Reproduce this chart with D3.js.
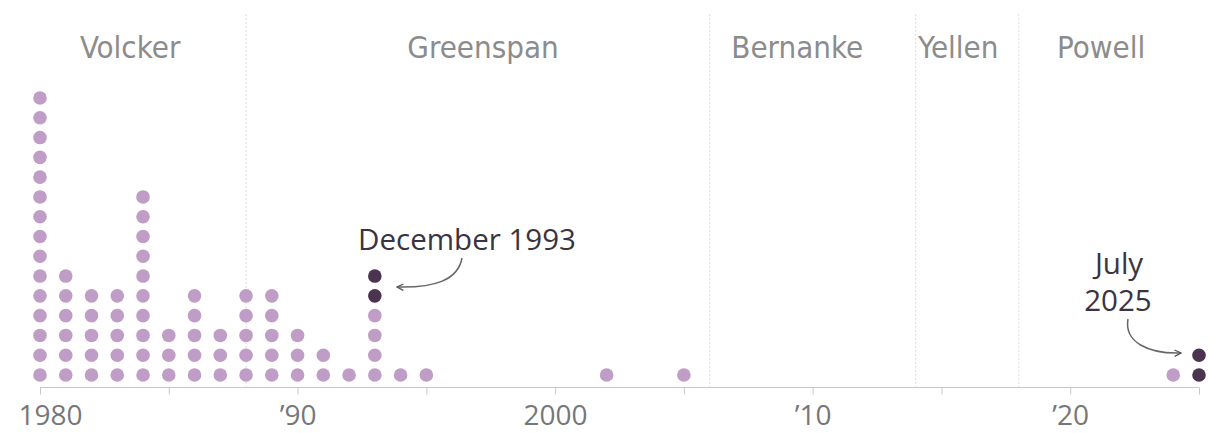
<!DOCTYPE html>
<html>
<head>
<meta charset="utf-8">
<script src="https://cdn.jsdelivr.net/npm/d3@7"></script>
<style>
  body { margin: 0; background: #fff; }
  .chair { font-family: "DejaVu Sans Condensed", "DejaVu Sans", sans-serif; font-stretch: condensed; fill: #8c8c8c; }
  .tick-label { font-family: "Open Sans", sans-serif; fill: #777; }
  .note { font-family: "Open Sans", sans-serif; fill: #3a3340; }
</style>
</head>
<body>
<div id="chart"></div>
<script>
// ======= DATA =======

// years that had dots, and how many dots are stacked in each
const years  = [1980, 1981, 1982, 1983, 1984, 1985, 1986, 1987, 1988, 1989,
                1990, 1991, 1992, 1993, 1994, 1995, 2002, 2005, 2024, 2025];
const counts = [15, 6, 5, 5, 10, 3, 5, 3, 5, 5,
                3, 2, 1, 6, 1, 1, 1, 1, 1, 2];

// dots drawn dark at the top of a stack
const highlightYears  = [1993, 2025];
const highlightCounts = [2, 2];

// fed chairs: where each term starts (divider) and where the name sits
const chairs        = ["Volcker", "Greenspan", "Bernanke", "Yellen", "Powell"];
const chairLabelAt  = [1983.5, 1997.2, 2009.4, 2015.65, 2021.2];
const chairDividers = [1988.0, 2006.0, 2014.0, 2018.0];

const tickYears  = [1980, 1985, 1990, 1995, 2000, 2005, 2010, 2015, 2020, 2025];
const tickLabels = { 1980: "1980", 1990: "\u201990", 2000: "2000", 2010: "\u201910", 2020: "\u201920" };

// ======= SETUP =======
const width = 1213;
const height = 433;
const lightColor = "#bf9dc6";
const darkColor = "#4a3450";

const svg = d3.select("#chart")
  .append("svg")
  .attr("width", width)
  .attr("height", height);

const x = d3.scaleLinear().domain([1980, 2025]).range([40, 1199]);
const y = d3.scaleLinear().domain([0, 14]).range([375, 98]);
const axisY = 387.5;

// ------- dividers -------
svg.selectAll(".divider")
  .data(chairDividers)
  .enter()
  .append("line")
  .attr("class", "divider")
  .attr("x1", d => x(d)).attr("x2", d => x(d))
  .attr("y1", 14).attr("y2", axisY)
  .attr("stroke", "#dedede")
  .attr("stroke-width", 1)
  .attr("stroke-dasharray", "2,2");

// ------- chair names -------
svg.selectAll(".chair")
  .data(chairs)
  .enter()
  .append("text")
  .attr("class", "chair")
  .attr("x", (d, i) => x(chairLabelAt[i]))
  .attr("y", 58)
  .attr("text-anchor", "middle")
  .attr("font-size", 31)
  .text(d => d);

// ------- axis -------
const axis = d3.axisBottom(x)
  .tickValues(tickYears)
  .tickSize(7)
  .tickFormat(d => tickLabels[d] || "");

const axisG = svg.append("g")
  .attr("transform", `translate(0,${axisY})`)
  .call(axis);

axisG.select(".domain").attr("stroke", "#c8c8c8").attr("d", `M${x(1980)},0H${x(2025)}`);
axisG.selectAll(".tick line").attr("stroke", "#c8c8c8");
axisG.selectAll(".tick text")
  .attr("class", "tick-label")
  .attr("y", 0)
  .attr("dy", null)
  .attr("transform", d => `translate(${d === 1980 ? 10 : 0},37)`)
  .attr("font-size", 28)
  .attr("fill", "#777");

// ------- dots -------
const dots = [];
years.forEach((yr, i) => {
  const h = highlightYears.indexOf(yr);
  const nDark = h >= 0 ? highlightCounts[h] : 0;
  for (let k = 0; k < counts[i]; k++) {
    dots.push({ year: yr, row: k, dark: k >= counts[i] - nDark });
  }
});

svg.selectAll(".dot")
  .data(dots)
  .enter()
  .append("circle")
  .attr("class", "dot")
  .attr("cx", d => x(d.year))
  .attr("cy", d => y(d.row))
  .attr("r", 6.8)
  .attr("fill", d => d.dark ? darkColor : lightColor);

// ------- annotations -------
svg.append("text")
  .attr("class", "note")
  .attr("x", 467).attr("y", 250)
  .attr("text-anchor", "middle")
  .attr("font-size", 29.5)
  .text("December 1993");

svg.append("text")
  .attr("class", "note")
  .attr("x", 1119).attr("y", 274)
  .attr("text-anchor", "middle")
  .attr("font-size", 29.5)
  .text("July");

svg.append("text")
  .attr("class", "note")
  .attr("x", 1118).attr("y", 311)
  .attr("text-anchor", "middle")
  .attr("font-size", 29.5)
  .text("2025");

svg.append("defs").append("marker")
  .attr("id", "head")
  .attr("viewBox", "0 0 10 10")
  .attr("refX", 9).attr("refY", 5)
  .attr("markerWidth", 8).attr("markerHeight", 8)
  .attr("markerUnits", "userSpaceOnUse")
  .attr("orient", "auto")
  .append("path")
  .attr("d", "M1,1L9,5L1,9")
  .attr("fill", "none")
  .attr("stroke", "#555")
  .attr("stroke-width", 1.6);

const arrows = [
  "M462,258 C458,280 435,288 397,287",
  "M1128,319 C1124,342 1148,354 1181,353"
];

svg.selectAll(".arrow")
  .data(arrows)
  .enter()
  .append("path")
  .attr("class", "arrow")
  .attr("d", d => d)
  .attr("fill", "none")
  .attr("stroke", "#666")
  .attr("stroke-width", 1.5)
  .attr("marker-end", "url(#head)");
</script>
</body>
</html>
